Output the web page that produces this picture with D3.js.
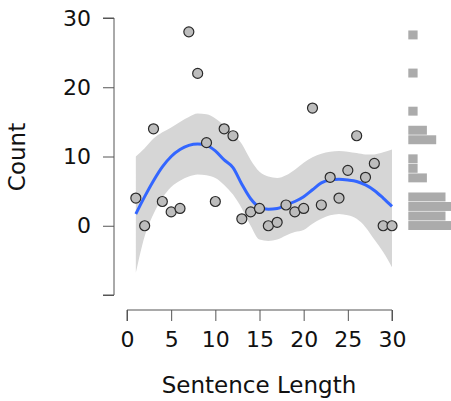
<!DOCTYPE html>
<html>
<head>
<meta charset="utf-8">
<script src="https://cdn.jsdelivr.net/npm/d3@7"></script>
<style>
    body { margin: 0; background: #fff; }
    text { font-family: "DejaVu Sans", sans-serif; fill: #111; }
</style>
</head>
<body>
<div class="canvas"></div>
<script>
'use strict';

// observed points
const sentenceLength = [1, 2, 3, 4, 5, 6, 7, 8, 9, 10, 11, 12, 13, 14, 15,
    16, 17, 18, 19, 20, 21, 22, 23, 24, 25, 26, 27, 28, 29, 30];
const counts = [4, 0, 14, 3.5, 2, 2.5, 28, 22, 12, 3.5, 14, 13, 1, 2, 2.5,
    0, 0.5, 3, 2, 2.5, 17, 3, 7, 4, 8, 13, 7, 9, 0, 0];

// smoother
const smoothX = sentenceLength;
const smoothFit = [1.7, 4.2, 6.5, 8.5, 10.0, 11.0, 11.6, 11.8, 11.6, 10.8, 9.5, 8.4, 6.0, 3.9, 2.7,
    2.4, 2.5, 3.0, 3.5, 4.2, 5.2, 6.2, 6.6, 6.7, 6.6, 6.4, 5.9, 5.1, 4.0, 2.8];
const smoothUpper = [10.0, 11.2, 12.6, 13.5, 14.2, 15.0, 15.7, 16.2, 16.1, 15.5, 14.5, 13.3, 11.8, 9.5, 7.8,
    7.1, 6.9, 7.3, 8.1, 9.1, 9.9, 10.4, 10.7, 10.8, 10.7, 10.5, 10.3, 10.3, 10.6, 11.0];
const smoothLower = [-6.8, -1.5, 1.7, 4.0, 5.6, 6.5, 7.1, 7.4, 7.3, 6.9, 5.9, 4.5, 2.5, 0.0, -2.0,
    -2.2, -2.0, -1.4, -0.9, -0.6, 0.3, 1.0, 1.5, 1.7, 1.5, 1.0, -0.2, -2.0, -3.8, -6.0];

const xTicks = [0, 5, 10, 15, 20, 25, 30];
const yTicks = [30, 20, 10, 0];

const width = 451, height = 401;

const svg = d3.select('.canvas')
    .append('svg')
    .attr('width', width)
    .attr('height', height);

const x = d3.scaleLinear().domain([0, 30]).range([127, 392]);
const y = d3.scaleLinear().domain([-10, 30]).range([295, 18]);

// ribbon + line, split where the fit pieces meet
const smooth = smoothX.map((d, i) => {
    return { x: d, fit: smoothFit[i], lo: smoothLower[i], hi: smoothUpper[i] };
});
const pieces = [smooth.slice(0, 12), smooth.slice(11)];

const band = d3.area()
    .x(d => x(d.x))
    .y0(d => y(d.lo))
    .y1(d => y(d.hi))
    .curve(d3.curveMonotoneX);

svg.selectAll('path.band')
    .data(pieces)
    .enter().append('path')
    .attr('class', 'band')
    .attr('d', band)
    .attr('fill', '#d6d6d6');

const fitLine = d3.line()
    .x(d => x(d.x))
    .y(d => y(d.fit))
    .curve(d3.curveMonotoneX);

svg.append('path')
    .datum(smooth)
    .attr('d', fitLine)
    .attr('fill', 'none')
    .attr('stroke', '#3366ff')
    .attr('stroke-width', 3);

// points
svg.selectAll('circle')
    .data(counts)
    .enter().append('circle')
    .attr('cx', (d, i) => x(sentenceLength[i]))
    .attr('cy', d => y(d))
    .attr('r', 5)
    .attr('fill', '#bdbdbd')
    .attr('stroke', '#2a2a2a')
    .attr('stroke-width', 1.2);

// marginal histogram
const binLo = -0.7, binHi = 28.2, nBins = 21;
const edges = d3.range(1, nBins).map(k => binLo + k * (binHi - binLo) / nBins);
const bins = d3.bin().domain([binLo, binHi]).thresholds(edges)(counts);

const hx = d3.scaleLinear().domain([0, 1]).range([408.3, 417.6]);

svg.selectAll('rect.hist')
    .data(bins.filter(b => b.length > 0))
    .enter().append('rect')
    .attr('class', 'hist')
    .attr('x', hx(0))
    .attr('y', d => y(d.x1))
    .attr('width', d => hx(d.length) - hx(0))
    .attr('height', d => y(d.x0) - y(d.x1) - 0.6)
    .attr('fill', '#ababab');

// axes
const yAxis = svg.append('g')
    .attr('transform', 'translate(114,0)')
    .call(d3.axisLeft(y).tickValues(yTicks.concat([-10])).tickSize(11).tickPadding(12)
        .tickFormat(d => d === -10 ? '' : d));
yAxis.select('.domain').attr('d', `M-11,${y(30)}H0V${y(-10)}H-11`);

const xAxis = svg.append('g')
    .attr('transform', 'translate(0,310)')
    .call(d3.axisBottom(x).tickValues(xTicks).tickSize(11).tickPadding(10));
xAxis.select('.domain').attr('d', `M${x(0)},11V0H${x(30)}V11`);

svg.selectAll('.tick line, .domain').attr('stroke', '#555').attr('stroke-width', 1);
svg.selectAll('.tick text')
    .attr('font-size', 22)
    .style('font-family', '"DejaVu Sans", sans-serif')
    .attr('fill', '#111');

svg.append('text')
    .attr('x', 259)
    .attr('y', 393)
    .attr('text-anchor', 'middle')
    .attr('font-size', 23)
    .text('Sentence Length');

svg.append('text')
    .attr('transform', 'translate(25,157) rotate(-90)')
    .attr('text-anchor', 'middle')
    .attr('font-size', 23)
    .text('Count');
</script>
</body>
</html>
